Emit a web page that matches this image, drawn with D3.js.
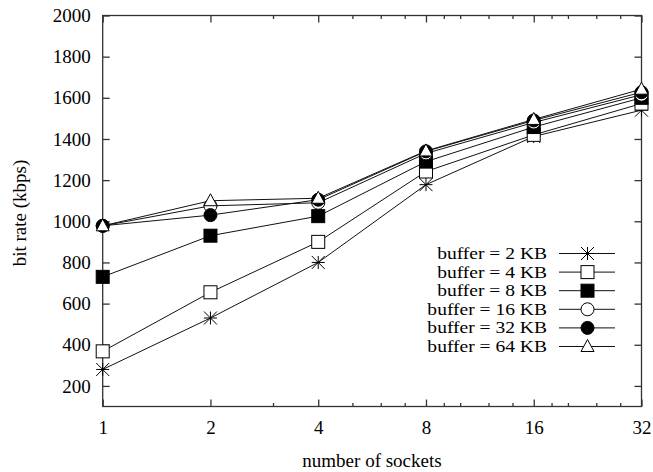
<!DOCTYPE html>
<html>
<head>
<meta charset="utf-8">
<script src="https://cdn.jsdelivr.net/npm/d3@7"></script>
<style>
  html, body { margin: 0; padding: 0; background: #fff; }
  svg { display: block; }
  text { font-family: "Liberation Serif", "Times New Roman", serif; fill: #000; }
</style>
</head>
<body>
<svg id="chart" width="653" height="472"></svg>
<script>
// ---- data ----
const sockets = [1, 2, 4, 8, 16, 32];
const seriesNames = ["buffer = 2 KB", "buffer = 4 KB", "buffer = 8 KB", "buffer = 16 KB", "buffer = 32 KB", "buffer = 64 KB"];
const buf2  = [280, 530, 800, 1178, 1412, 1540];
const buf4  = [368, 655, 900, 1242, 1420, 1572];
const buf8  = [730, 930, 1025, 1290, 1458, 1600];
const buf16 = [978, 1075, 1090, 1330, 1480, 1615];
const buf32 = [978, 1030, 1105, 1340, 1490, 1627];
const buf64 = [978, 1100, 1112, 1342, 1495, 1642];
const markers = ["star", "openSquare", "filledSquare", "openCircle", "filledCircle", "openTriangle"];
const xTickLabels = [1, 2, 4, 8, 16, 32];
const xMinorTicks = [3, 5, 6, 7, 9, 10, 12, 14, 18, 20, 24, 28];
const yTickLabels = [200, 400, 600, 800, 1000, 1200, 1400, 1600, 1800, 2000];

const allSeries = [buf2, buf4, buf8, buf16, buf32, buf64];

// ---- layout ----
const svg = d3.select("#chart");
const L = 102.7, R = 641.5, T = 15.5, B = 406.5;
const x = d3.scaleLog().base(2).domain([1, 32]).range([L, R]);
const y = d3.scaleLinear().domain([100, 2000]).range([B, T]);
const axisColor = "#333";
const FS = 19;

// frame
svg.append("rect").attr("x", L).attr("y", T).attr("width", R - L).attr("height", B - T)
  .attr("fill", "none").attr("stroke", axisColor).attr("stroke-width", 1.3);

// bottom axis (ticks inward)
const xAxisB = d3.axisBottom(x).tickValues(xTickLabels).tickSize(-7).tickPadding(14)
  .tickFormat(d3.format("d"));
const gxb = svg.append("g").attr("transform", `translate(0,${B})`).call(xAxisB);
gxb.select(".domain").remove();
gxb.selectAll("line").attr("stroke", axisColor).attr("stroke-width", 1.3);
gxb.selectAll("text").attr("font-size", FS).attr("font-family", "Liberation Serif").attr("fill", "#000");
gxb.append("g").selectAll("line").data(xMinorTicks).join("line")
  .attr("x1", d => x(d)).attr("x2", d => x(d)).attr("y1", 0).attr("y2", -3.5)
  .attr("stroke", axisColor).attr("stroke-width", 1.3);

// top mirror ticks
const xAxisT = d3.axisTop(x).tickValues(xTickLabels).tickSize(-7).tickFormat("");
const gxt = svg.append("g").attr("transform", `translate(0,${T})`).call(xAxisT);
gxt.select(".domain").remove();
gxt.selectAll("line").attr("stroke", axisColor).attr("stroke-width", 1.3);
gxt.append("g").selectAll("line").data(xMinorTicks).join("line")
  .attr("x1", d => x(d)).attr("x2", d => x(d)).attr("y1", 0).attr("y2", 3.5)
  .attr("stroke", axisColor).attr("stroke-width", 1.3);

// left axis
const yAxisL = d3.axisLeft(y).tickValues(yTickLabels).tickSize(-7).tickPadding(12)
  .tickFormat(d3.format("d"));
const gyl = svg.append("g").attr("transform", `translate(${L},0)`).call(yAxisL);
gyl.select(".domain").remove();
gyl.selectAll("line").attr("stroke", axisColor).attr("stroke-width", 1.3);
gyl.selectAll("text").attr("font-size", FS).attr("font-family", "Liberation Serif").attr("fill", "#000");

// right mirror ticks
const yAxisR = d3.axisRight(y).tickValues(yTickLabels).tickSize(-7).tickFormat("");
const gyr = svg.append("g").attr("transform", `translate(${R},0)`).call(yAxisR);
gyr.select(".domain").remove();
gyr.selectAll("line").attr("stroke", axisColor).attr("stroke-width", 1.3);

// axis titles
svg.append("text").attr("x", 372).attr("y", 467).attr("text-anchor", "middle")
  .attr("font-size", FS).text("number of sockets");
svg.append("text").attr("transform", "translate(26,213) rotate(-90)").attr("text-anchor", "middle")
  .attr("font-size", FS).text("bit rate (kbps)");

// marker drawer
function drawMarker(g, type, cx, cy) {
  const s = 6.5;
  if (type === "star") {
    g.append("path")
      .attr("d", `M${cx - s},${cy}L${cx + s},${cy}M${cx},${cy - s}L${cx},${cy + s}` +
        `M${cx - s},${cy - s}L${cx + s},${cy + s}M${cx - s},${cy + s}L${cx + s},${cy - s}`)
      .attr("stroke", "#000").attr("stroke-width", 1).attr("fill", "none");
  } else if (type === "openSquare" || type === "filledSquare") {
    g.append("rect").attr("x", cx - s).attr("y", cy - s).attr("width", 2 * s).attr("height", 2 * s)
      .attr("fill", type === "filledSquare" ? "#000" : "#fff").attr("stroke", "#000").attr("stroke-width", 1);
  } else if (type === "openCircle" || type === "filledCircle") {
    g.append("circle").attr("cx", cx).attr("cy", cy).attr("r", s)
      .attr("fill", type === "filledCircle" ? "#000" : "#fff").attr("stroke", "#000").attr("stroke-width", 1);
  } else if (type === "openTriangle") {
    g.append("path").attr("d", `M${cx},${cy - s - 0.5}L${cx + s},${cy + s - 1.5}L${cx - s},${cy + s - 1.5}Z`)
      .attr("fill", "#fff").attr("stroke", "#000").attr("stroke-width", 1);
  }
}

// series
const line = d3.line().x((d, i) => x(sockets[i])).y(d => y(d));
const plot = svg.append("g");
allSeries.forEach((vals) => {
  plot.append("path").datum(vals).attr("d", line)
    .attr("fill", "none").attr("stroke", "#111").attr("stroke-width", 1);
});
allSeries.forEach((vals, k) => {
  const g = plot.append("g");
  vals.forEach((v, i) => drawMarker(g, markers[k], x(sockets[i]), y(v)));
});

// legend
const legX = 547, legY0 = 253.5, legDy = 18.6, LFS = 16;
const leg = svg.append("g");
seriesNames.forEach((name, k) => {
  const cy = legY0 + k * legDy;
  leg.append("rect").attr("x", 420).attr("y", cy - 9).attr("width", 200).attr("height", 18).attr("fill", "#fff");
});
seriesNames.forEach((name, k) => {
  const cy = legY0 + k * legDy;
  const t = leg.append("text").attr("x", legX).attr("y", cy + 5.5).attr("text-anchor", "end")
    .attr("font-size", LFS).text(name);
  const w = t.node().getComputedTextLength();
  t.attr("textLength", w * 1.22).attr("lengthAdjust", "spacingAndGlyphs");
  leg.append("line").attr("x1", 559).attr("x2", 615).attr("y1", cy).attr("y2", cy)
    .attr("stroke", "#111").attr("stroke-width", 1);
  drawMarker(leg, markers[k], 587.5, cy);
});
</script>
</body>
</html>
